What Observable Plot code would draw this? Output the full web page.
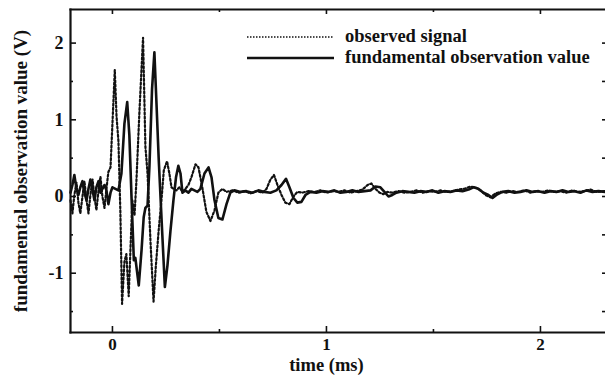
<!DOCTYPE html>
<html>
<head>
<meta charset="utf-8">
<script src="https://cdn.jsdelivr.net/npm/d3@7"></script>
<script src="https://cdn.jsdelivr.net/npm/@observablehq/plot@0.6"></script>
<style>
  html, body { margin: 0; padding: 0; background: #fff; }
  #chart svg { display: block; }
</style>
</head>
<body>
<div id="chart"></div>
<script>
// ---- data (time in ms, value in V) ----
const observedT = [-0.196,-0.187,-0.178,-0.168,-0.159,-0.150,-0.140,-0.131,-0.121,-0.112,-0.103,-0.093,-0.084,-0.075,-0.065,-0.056,-0.047,-0.037,-0.028,-0.019,-0.009,0.000,0.011,0.019,0.028,0.037,0.045,0.056,0.065,0.076,0.084,0.093,0.103,0.112,0.126,0.143,0.154,0.164,0.178,0.192,0.203,0.216,0.229,0.240,0.255,0.266,0.276,0.285,0.299,0.313,0.327,0.341,0.355,0.369,0.388,0.402,0.421,0.439,0.458,0.477,0.495,0.514,0.533,0.561,0.589,0.617,0.645,0.673,0.701,0.720,0.738,0.755,0.771,0.790,0.808,0.827,0.846,0.864,0.888,0.916,0.944,0.972,1.000,1.028,1.056,1.084,1.112,1.140,1.168,1.192,1.210,1.229,1.248,1.266,1.285,1.308,1.336,1.364,1.393,1.421,1.449,1.477,1.505,1.533,1.561,1.589,1.617,1.645,1.673,1.696,1.720,1.743,1.766,1.790,1.813,1.841,1.869,1.897,1.925,1.953,1.981,2.009,2.037,2.065,2.093,2.121,2.150,2.178,2.206,2.234,2.262,2.304];
const observedV = [-0.05,-0.22,0.02,0.18,-0.08,-0.22,0.00,0.20,-0.05,-0.22,0.02,0.22,0.00,-0.18,0.08,0.26,0.00,-0.15,0.10,0.32,0.38,0.95,1.65,1.05,0.72,-0.20,-1.40,-0.85,-0.75,-1.30,-0.70,-0.05,-0.25,0.20,1.10,2.07,0.65,0.30,-0.60,-1.37,-0.90,-0.44,-0.05,0.34,0.46,0.30,0.12,0.10,0.08,0.12,0.06,0.10,0.15,0.25,0.42,0.38,0.10,-0.20,-0.32,-0.18,0.05,0.10,0.06,0.08,0.05,0.07,0.04,0.07,0.05,0.10,0.22,0.28,0.15,0.02,-0.08,-0.10,0.00,0.06,0.05,0.07,0.06,0.08,0.05,0.07,0.06,0.08,0.05,0.07,0.09,0.15,0.17,0.10,0.05,0.03,0.06,0.05,0.07,0.05,0.06,0.08,0.05,0.07,0.06,0.08,0.06,0.07,0.09,0.10,0.13,0.12,0.08,0.02,-0.01,0.04,0.06,0.05,0.07,0.06,0.08,0.05,0.07,0.06,0.08,0.06,0.07,0.05,0.08,0.06,0.07,0.09,0.06,0.07];

const fundamentalT = [-0.196,-0.187,-0.178,-0.168,-0.159,-0.150,-0.140,-0.131,-0.121,-0.112,-0.103,-0.093,-0.084,-0.075,-0.065,-0.056,-0.047,-0.037,-0.028,-0.019,-0.009,0.000,0.014,0.028,0.042,0.056,0.069,0.079,0.089,0.100,0.107,0.123,0.136,0.146,0.154,0.164,0.173,0.185,0.196,0.206,0.216,0.232,0.245,0.257,0.271,0.285,0.297,0.308,0.318,0.327,0.341,0.355,0.369,0.383,0.397,0.411,0.430,0.449,0.463,0.477,0.495,0.514,0.533,0.551,0.570,0.598,0.626,0.654,0.682,0.710,0.738,0.766,0.790,0.811,0.827,0.846,0.864,0.883,0.902,0.925,0.953,0.981,1.009,1.037,1.065,1.093,1.121,1.150,1.178,1.206,1.229,1.252,1.271,1.290,1.308,1.327,1.355,1.383,1.411,1.439,1.467,1.495,1.523,1.551,1.579,1.607,1.636,1.664,1.687,1.710,1.734,1.757,1.776,1.799,1.822,1.850,1.879,1.907,1.935,1.963,1.991,2.019,2.047,2.075,2.103,2.131,2.159,2.187,2.215,2.243,2.271,2.304];
const fundamentalV = [0.05,0.15,0.28,0.10,0.02,0.12,0.20,0.05,-0.05,0.10,0.22,0.08,-0.05,0.12,0.20,0.05,0.10,0.15,0.08,-0.10,0.05,0.12,0.10,0.08,0.30,0.95,1.23,0.80,0.00,-0.83,-0.80,-1.16,-0.70,-0.27,-0.15,-0.12,0.40,1.40,1.88,1.20,0.50,-0.44,-1.18,-0.90,-0.45,-0.05,0.25,0.40,0.30,0.05,0.08,0.05,0.10,0.08,0.06,0.10,0.30,0.38,0.25,-0.05,-0.28,-0.30,-0.10,0.05,0.08,0.06,0.07,0.05,0.08,0.06,0.05,0.08,0.15,0.23,0.12,-0.02,-0.08,-0.07,0.02,0.06,0.05,0.07,0.06,0.08,0.05,0.06,0.08,0.06,0.07,0.08,0.13,0.12,0.06,0.00,0.02,0.05,0.07,0.06,0.05,0.07,0.06,0.08,0.05,0.07,0.06,0.08,0.07,0.09,0.12,0.10,0.05,0.02,-0.02,0.03,0.06,0.07,0.05,0.06,0.08,0.06,0.07,0.05,0.07,0.06,0.08,0.06,0.07,0.05,0.08,0.06,0.07,0.06];

const xTickLabels = [0, 1, 2];
const xMinorTicks = [0.5, 1.5];
const yTickLabels = [-1, 0, 1, 2];
const yMinorTicks = [-1.5, -0.5, 0.5, 1.5];
const xDomain = [-0.196, 2.304];
const yDomain = [-1.773, 2.438];
const seriesNames = ["observed signal", "fundamental observation value"];
const xLabel = "time (ms)";
const yLabel = "fundamental observation value (V)";

const observed = observedT.map((t, i) => ({t, v: observedV[i]}));
const fundamental = fundamentalT.map((t, i) => ({t, v: fundamentalV[i]}));

const W = 605, H = 376, ML = 70, MR = 0, MT = 9, MB = 44;
const FW = W - ML - MR, FH = H - MT - MB;
const font = "'Liberation Serif', 'DejaVu Serif', serif";
const ink = "#111";
const dotted = "2,2.2";

const chart = Plot.plot({
  width: W, height: H,
  marginLeft: ML, marginRight: MR, marginTop: MT, marginBottom: MB,
  x: {domain: xDomain},
  y: {domain: yDomain},
  style: {fontFamily: font, background: "#fff", color: ink},
  marks: [
    // frame (left, top, bottom)
    Plot.frame({anchor: "left", stroke: ink, strokeWidth: 2.2}),
    Plot.frame({anchor: "top", stroke: ink, strokeWidth: 2.2}),
    Plot.frame({anchor: "bottom", stroke: ink, strokeWidth: 2.2}),
    // inward ticks
    Plot.ruleX(xTickLabels, {x: d => d, insetTop: FH - 6, stroke: ink, strokeWidth: 1.6}),
    Plot.ruleX(xMinorTicks, {x: d => d, insetTop: FH - 3, stroke: ink, strokeWidth: 1.6}),
    Plot.ruleX(xTickLabels, {x: d => d, insetBottom: FH - 5, stroke: ink, strokeWidth: 1.6}),
    Plot.ruleX(xMinorTicks, {x: d => d, insetBottom: FH - 3, stroke: ink, strokeWidth: 1.6}),
    Plot.ruleY(yTickLabels, {y: d => d, insetRight: FW - 6, stroke: ink, strokeWidth: 1.6}),
    Plot.ruleY(yMinorTicks, {y: d => d, insetRight: FW - 3, stroke: ink, strokeWidth: 1.6}),
    Plot.ruleY(yTickLabels, {y: d => d, insetLeft: FW - 3, stroke: ink, strokeWidth: 1.6}),
    Plot.ruleY(yMinorTicks, {y: d => d, insetLeft: FW - 3, stroke: ink, strokeWidth: 1.6}),
    // axis labels (ticks drawn above)
    Plot.axisX(xTickLabels, {tickSize: 0, tickPadding: 5, tickFormat: d => String(d), fontSize: 17, fontWeight: "bold", label: null}),
    Plot.axisY(yTickLabels, {tickSize: 0, tickPadding: 7, tickFormat: d => String(d), fontSize: 18, fontWeight: "bold", label: null}),
    Plot.text([xLabel], {x: 1, frameAnchor: "bottom", dy: 38, fontSize: 18.5, fontWeight: "bold", fill: ink}),
    Plot.text([yLabel], {frameAnchor: "left", textAnchor: "middle", dx: -50, rotate: -90, fontSize: 19, fontWeight: "bold", fill: ink}),
    // series
    Plot.line(observed, {x: "t", y: "v", stroke: ink, strokeWidth: 2.2, strokeDasharray: dotted}),
    Plot.line(fundamental, {x: "t", y: "v", stroke: ink, strokeWidth: 2.6})
  ]
});

document.getElementById("chart").appendChild(chart);

// legend (inside plot, upper right)
const svg = d3.select(chart);
const lg = svg.append("g").attr("font-family", font).attr("font-size", 18.5).attr("font-weight", "bold").attr("fill", ink).attr("text-anchor", "start");
const rows = [
  {name: seriesNames[0], dash: "1.5,1.5", y: 37},
  {name: seriesNames[1], dash: null, y: 58}
];
rows.forEach(r => {
  lg.append("line").attr("x1", 247).attr("x2", 334).attr("y1", r.y).attr("y2", r.y)
    .attr("stroke", ink).attr("stroke-width", r.dash ? 1.5 : 2.4).attr("stroke-dasharray", r.dash);
  lg.append("text").attr("x", 345).attr("y", r.y + 5).attr("text-anchor", "start").text(r.name);
});
</script>
</body>
</html>
